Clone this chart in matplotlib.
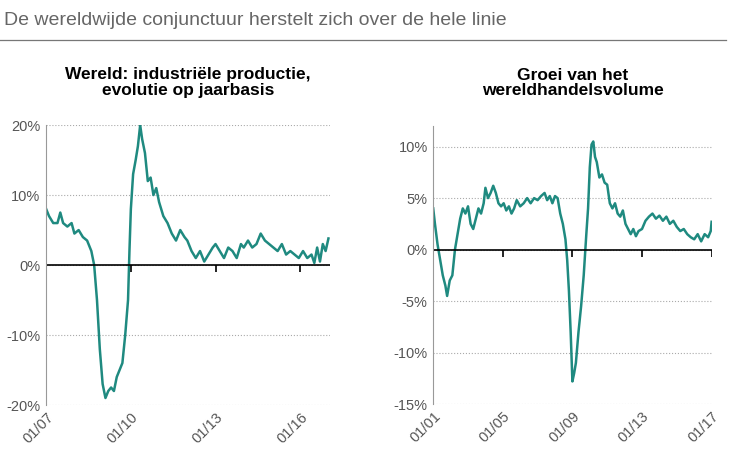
import matplotlib.pyplot as plt

plt.rcParams['font.family'] = ['Liberation Sans', 'DejaVu Sans']

teal = "#1f8a80"
grey = "#555555"

# Wereld: industriële productie (jaar, % j/j)
ip_t = [2007.0, 2007.1, 2007.25, 2007.4, 2007.5, 2007.6, 2007.75, 2007.9, 2008.0, 2008.15, 2008.3,
        2008.45, 2008.6, 2008.7, 2008.8, 2008.9, 2009.0, 2009.1, 2009.2, 2009.3, 2009.4, 2009.5,
        2009.6, 2009.7, 2009.8, 2009.9, 2009.95, 2010.0, 2010.08, 2010.17, 2010.25, 2010.33, 2010.4,
        2010.5, 2010.6, 2010.7, 2010.8, 2010.9, 2011.0, 2011.15, 2011.3, 2011.45, 2011.6, 2011.75,
        2011.9, 2012.0, 2012.15, 2012.3, 2012.45, 2012.6, 2012.75, 2012.9, 2013.0, 2013.15, 2013.3,
        2013.45, 2013.6, 2013.75, 2013.9, 2014.0, 2014.15, 2014.3, 2014.45, 2014.6, 2014.75, 2014.9,
        2015.05, 2015.2, 2015.35, 2015.5, 2015.65, 2015.8, 2015.95, 2016.1, 2016.25, 2016.4, 2016.5,
        2016.6, 2016.7, 2016.8, 2016.9, 2017.0]
ip_v = [8, 7, 6, 6, 7.5, 6, 5.5, 6, 4.5, 5, 4, 3.5, 2, 0, -5, -12, -17, -19, -18, -17.5, -18,
        -16, -15, -14, -10, -5, 2, 8, 13, 15, 17, 20, 18, 16, 12, 12.5, 10, 11, 9, 7, 6, 4.5, 3.5,
        5, 4, 3.5, 2, 1, 2, 0.5, 1.5, 2.5, 3, 2, 1, 2.5, 2, 1, 3, 2.5, 3.5, 2.5, 3, 4.5, 3.5, 3, 2.5,
        2, 3, 1.5, 2, 1.5, 1, 2, 1, 1.5, 0.3, 2.5, 0.5, 3, 2, 3.8]

# Groei wereldhandelsvolume
wt_t = [2001.0, 2001.1, 2001.25, 2001.4, 2001.55, 2001.7, 2001.8, 2001.95, 2002.1, 2002.25, 2002.4,
        2002.55, 2002.7, 2002.85, 2003.0, 2003.15, 2003.3, 2003.45, 2003.6, 2003.75, 2003.9, 2004.0,
        2004.15, 2004.3, 2004.45, 2004.6, 2004.75, 2004.9, 2005.05, 2005.2, 2005.35, 2005.5, 2005.65,
        2005.8, 2006.0, 2006.2, 2006.4, 2006.6, 2006.8, 2007.0, 2007.2, 2007.4, 2007.55, 2007.7,
        2007.85, 2008.0, 2008.15, 2008.3, 2008.45, 2008.6, 2008.7, 2008.8, 2008.9, 2009.0, 2009.1,
        2009.2, 2009.35, 2009.5, 2009.65, 2009.8, 2009.9, 2010.0, 2010.1, 2010.2, 2010.3, 2010.4,
        2010.55, 2010.7, 2010.85, 2011.0, 2011.15, 2011.3, 2011.45, 2011.6, 2011.75, 2011.9, 2012.05,
        2012.2, 2012.35, 2012.5, 2012.65, 2012.8, 2013.0, 2013.2, 2013.4, 2013.6, 2013.8, 2014.0,
        2014.2, 2014.4, 2014.6, 2014.8, 2015.0, 2015.2, 2015.4, 2015.6, 2015.8, 2016.0, 2016.2,
        2016.4, 2016.6, 2016.8, 2016.95, 2017.0]
wt_v = [4, 2.5, 0.5, -1, -2.5, -3.5, -4.5, -3, -2.5, 0, 1.5, 3, 4, 3.5, 4.2, 2.5, 2, 3, 4, 3.5,
        4.5, 6, 5, 5.5, 6.2, 5.5, 4.5, 4.2, 4.5, 3.8, 4.2, 3.5, 4, 4.8, 4.2, 4.5, 5, 4.5, 5, 4.8,
        5.2, 5.5, 4.8, 5.2, 4.5, 5.2, 5, 3.5, 2.5, 1, -1, -4, -8, -12.8, -12, -11, -8, -5.5, -2.5,
        1.5, 4, 8, 10.2, 10.5, 9, 8.5, 7, 7.3, 6.5, 6.3, 4.5, 4, 4.5, 3.5, 3.2, 3.8, 2.5, 2, 1.5, 2,
        1.3, 1.8, 2, 2.8, 3.2, 3.5, 3, 3.3, 2.8, 3.2, 2.5, 2.8, 2.2, 1.8, 2, 1.5, 1.2, 1, 1.5,
        0.8, 1.5, 1.2, 1.8, 2.7]

fig = plt.figure(figsize=(7.33, 4.65), dpi=100)
fig.text(0.005, 0.955, "De wereldwijde conjunctuur herstelt zich over de hele linie",
         fontsize=14, color="#666666", va="center")
fig.add_artist(plt.Line2D([0, 0.99], [0.915, 0.915], color="#777777", lw=0.9))


def setup(ax, t, v, ylim, yticks, xticks, xlabels, xlim, title):
    ax.plot(t, v, color=teal, lw=1.8)
    ax.set_ylim(*ylim)
    ax.set_xlim(*xlim)
    ax.set_yticks(yticks)
    ax.set_yticklabels([f"{y}%" for y in yticks], color=grey, fontsize=10.5)
    ax.yaxis.grid(True, ls=":", color="#aaaaaa", lw=0.8)
    for s in ["top", "right", "bottom"]:
        ax.spines[s].set_visible(False)
    ax.spines["left"].set_color("#999999")
    ax.tick_params(axis="y", length=0, pad=4)
    ax.axhline(0, color="black", lw=1.2)
    rng = ylim[1] - ylim[0]
    ax.vlines(xticks, -rng * 0.025, 0, color="black", lw=1.2)
    ax.set_xticks(xticks)
    ax.set_xticklabels(xlabels, rotation=45, color=grey, fontsize=10.5, ha="right",
                       rotation_mode="anchor")
    ax.tick_params(axis="x", length=0, pad=4)
    ax.set_title(title, fontsize=12.5, fontweight="bold", pad=22, linespacing=1.05)


ax1 = fig.add_axes([0.063, 0.129, 0.387, 0.602])
setup(ax1, ip_t, ip_v, (-20, 20), [-20, -10, 0, 10, 20], [2007, 2010, 2013, 2016],
      ["01/07", "01/10", "01/13", "01/16"], (2007, 2017.05),
      "Wereld: industriële productie,\nevolutie op jaarbasis")

ax2 = fig.add_axes([0.591, 0.131, 0.381, 0.598])
setup(ax2, wt_t, wt_v, (-15, 12), [-15, -10, -5, 0, 5, 10], [2001, 2005, 2009, 2013, 2017],
      ["01/01", "01/05", "01/09", "01/13", "01/17"], (2001, 2017.05),
      "Groei van het\nwereldhandelsvolume")

fig.savefig("out.png", dpi=100)
